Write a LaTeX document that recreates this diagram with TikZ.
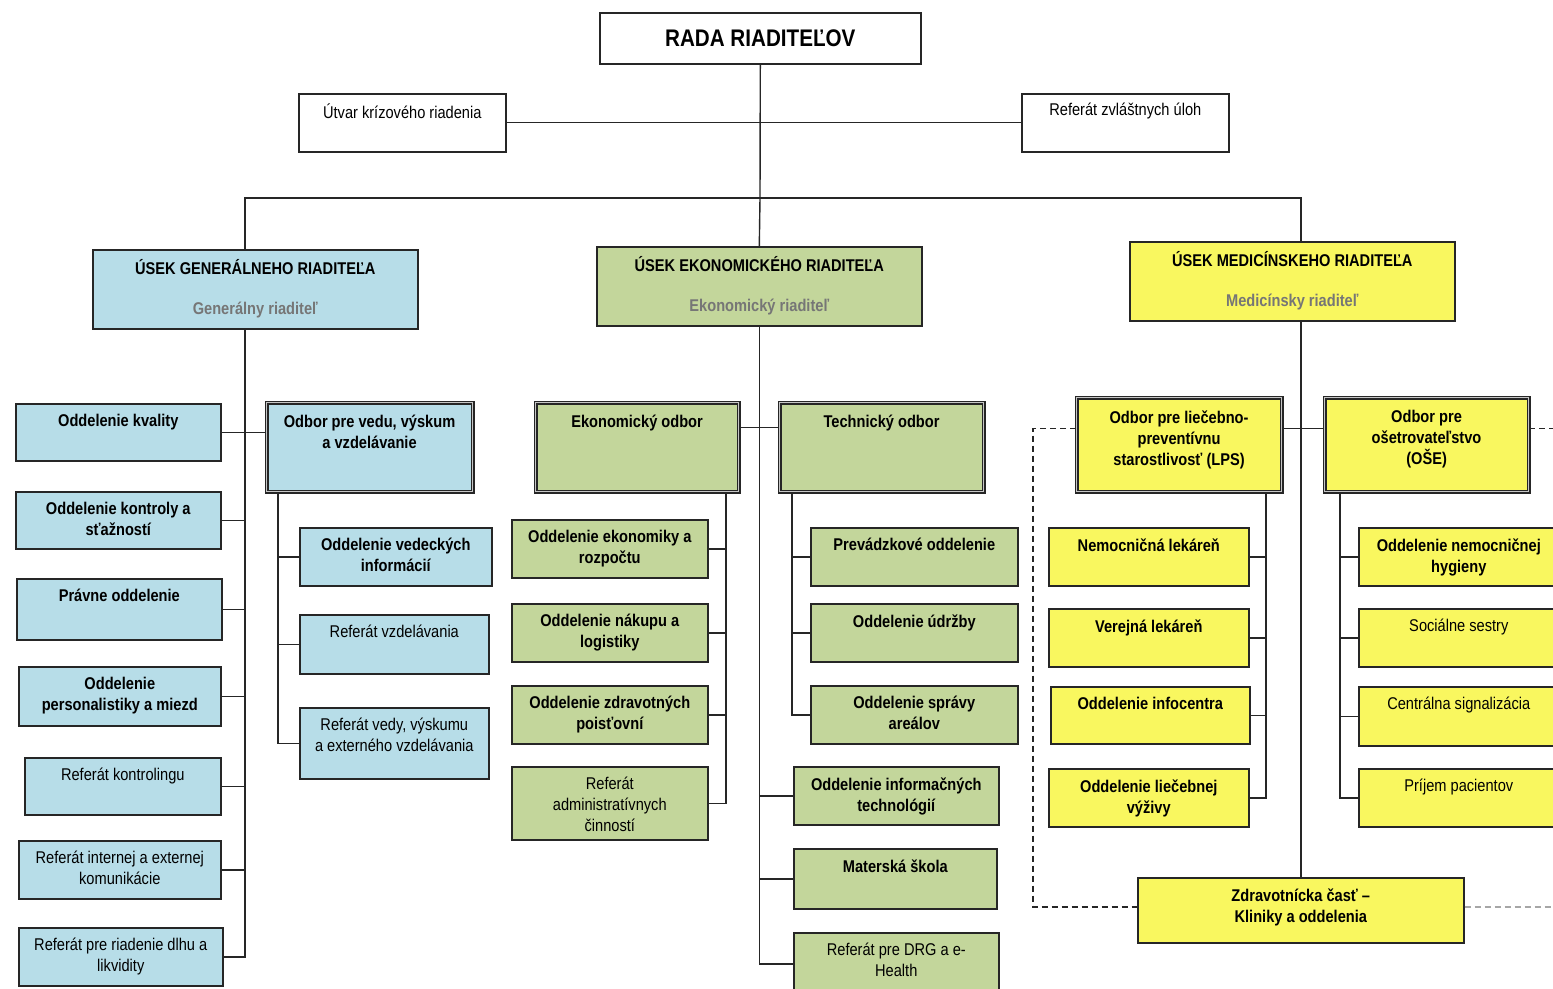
\documentclass[tikz,border=0pt]{standalone}
\usepackage{fontspec}
\setmainfont{Liberation Sans}[FakeStretch=0.86]
\usetikzlibrary{calc}
\definecolor{genblue}{HTML}{B7DDE8}
\definecolor{ekogreen}{HTML}{C3D69B}
\definecolor{medyellow}{HTML}{F9F75F}
\definecolor{subgray}{HTML}{767676}
\newcommand{\lab}{\fontsize{8.5}{10.5}\selectfont}
\tikzset{
    unit/.style={draw=black!85, line width=0.8pt, anchor=north west, inner sep=0pt},
    gen/.style={unit, fill=genblue},
    eko/.style={unit, fill=ekogreen},
    med/.style={unit, fill=medyellow},
    odbor/.style={double=gray!45, double distance=0.9pt, line width=0.55pt},
    labtext/.style={font=\lab, anchor=north, align=center, inner sep=0pt},
    conn/.style={draw=black!85, line width=0.7pt},
    dash line/.style={conn, dash pattern=on 3pt off 2pt}
}

\begin{document}
\begin{tikzpicture}[x=0.5pt,y=-0.5pt]
\useasboundingbox (0,0) rectangle (1553,989);
% top
\node[unit, fill=white, anchor=north west, minimum width=160.5pt, minimum height=25.5pt, font=\fontsize{12}{14}\selectfont\bfseries] (rada) at (599,12) {RADA RIADITEĽOV};
\foreach \n/\x/\t in {utvar/298/{Útvar krízového riadenia}, zvl/1021/{Referát zvláštnych úloh}}{
    \node[unit, fill=white, minimum width=103.5pt, minimum height=29pt] (\n) at (\x,93) {};
    \node[labtext] (\n-t) at ([yshift=-5pt]\n.north) {\t};
}
\coordinate (hub) at (760,198);

% usek boxes
\foreach \n/\s/\x/\y/\t/\u in {usekG/gen/92/249/{ÚSEK GENERÁLNEHO RIADITEĽA}/{Generálny riaditeľ},
    usekE/eko/596/246/{ÚSEK EKONOMICKÉHO RIADITEĽA}/{Ekonomický riaditeľ},
    usekM/med/1129/241/{ÚSEK MEDICÍNSKEHO RIADITEĽA}/{Medicínsky riaditeľ}}{
    \node[\s, minimum width=162.5pt, minimum height=39.5pt] (\n) at (\x,\y) {};
    \node[labtext, font=\lab\bfseries] (\n-t) at ([yshift=-5pt]\n.north) {\t};
    \node[labtext, font=\lab\bfseries, text=subgray] (\n-s) at ([yshift=-26.5pt]\n.north) {\u};
}

% odbory
\node[gen, odbor, minimum width=103pt, minimum height=44.5pt] (vedu) at (266,402) {};
\node[eko, odbor, minimum width=101.5pt, minimum height=44.5pt] (ekon) at (535,402) {};
\node[eko, odbor, minimum width=102pt, minimum height=44.5pt] (tech) at (779,402) {};
\node[med, odbor, minimum width=102.5pt, minimum height=47pt] (lps) at (1076,397) {};
\node[med, odbor, minimum width=102pt, minimum height=47pt] (ose) at (1324,397) {};
\foreach \n/\t in {vedu/{Odbor pre vedu, výskum\\a vzdelávanie}, ekon/{Ekonomický odbor}, tech/{Technický odbor},
    lps/{Odbor pre liečebno-\\preventívnu\\starostlivosť (LPS)}, ose/{Odbor pre\\ošetrovateľstvo\\(OŠE)}}{
    \node[labtext, font=\lab\bfseries] (\n-t) at ([yshift=-6.5pt]\n.north) {\t};
}

% units
\foreach \n/\s/\x/\y/\w/\h/\f/\t in {
    kval/gen/15/403/205/57/\bfseries/{Oddelenie kvality},
    kontr/gen/15/491/205/57/\bfseries/{Oddelenie kontroly a\\sťažností},
    prav/gen/16/578/205/61/\bfseries/{Právne oddelenie},
    pers/gen/18/666/202/59/\bfseries/{Oddelenie\\personalistiky a miezd},
    kontrol/gen/24/757/196/57/\mdseries/{Referát kontrolingu},
    komun/gen/18/840/202/58/\mdseries/{Referát internej a externej\\komunikácie},
    dlh/gen/18/927/204/58/\mdseries/{Referát pre riadenie dlhu a\\likvidity},
    vedinf/gen/299/527/192/58/\bfseries/{Oddelenie vedeckých\\informácií},
    vzdel/gen/299/614/189/59/\mdseries/{Referát vzdelávania},
    vedy/gen/299/707/189/71/\mdseries/{Referát vedy, výskumu\\a externého vzdelávania},
    rozp/eko/511/519/196/58/\bfseries/{Oddelenie ekonomiky a\\rozpočtu},
    nakup/eko/511/603/196/58/\bfseries/{Oddelenie nákupu a\\logistiky},
    poist/eko/511/685/196/58/\bfseries/{Oddelenie zdravotných\\poisťovní},
    admin/eko/511/766/196/73/\mdseries/{Referát\\administratívnych\\činností},
    prev/eko/810/527/207/58/\bfseries/{Prevádzkové oddelenie},
    udrz/eko/810/603/207/58/\bfseries/{Oddelenie údržby},
    areal/eko/810/685/207/58/\bfseries/{Oddelenie správy\\areálov},
    it/eko/793/766/205/58/\bfseries/{Oddelenie informačných\\technológií},
    ms/eko/793/848/203/60/\bfseries/{Materská škola},
    drg/eko/793/932/205/62/\mdseries/{Referát pre DRG a e-\\Health},
    nlek/med/1048/527/200/58/\bfseries/{Nemocničná lekáreň},
    vlek/med/1048/608/200/58/\bfseries/{Verejná lekáreň},
    info/med/1050/686/199/57/\bfseries/{Oddelenie infocentra},
    vyziv/med/1048/768/200/58/\bfseries/{Oddelenie liečebnej\\výživy},
    hyg/med/1358/527/200/58/\bfseries/{Oddelenie nemocničnej\\hygieny},
    soc/med/1358/608/200/58/\mdseries/{Sociálne sestry},
    sign/med/1358/686/200/59/\mdseries/{Centrálna signalizácia},
    prij/med/1358/768/200/58/\mdseries/{Príjem pacientov},
    zdrav/med/1137/877/326/65/\bfseries/{Zdravotnícka časť –\\Kliniky a oddelenia}}{
    \node[\s, minimum width=\w*0.5pt, minimum height=\h*0.5pt] (\n) at (\x,\y) {};
    \node[labtext, font=\lab\f] (\n-t) at ([yshift=-5.5pt]\n.north) {\t};
}

% connectors
\draw[conn] (rada.south) -- (hub) -- (usekE.north);
\draw[conn] (utvar.east) -- (zvl.west);
\draw[conn] ([xshift=-5.25pt]usekG.north) |- (hub) -| (zdrav.north |- usekM.north);

% general
\coordinate (gsp) at ([xshift=-5.25pt]usekG.south);
\foreach \n in {kval,kontr,prav,pers,kontrol,komun,dlh}
    \draw[conn] (gsp) |- (\n.east);
\draw[conn] (kval.east) -- (kval.east -| vedu.west);
\coordinate (vsp) at ([xshift=6pt]vedu.south west);
\foreach \n in {vedinf,vzdel,vedy}
    \draw[conn] (vsp) |- (\n.west);

% economic
\foreach \n in {it,ms,drg}
    \draw[conn] (usekE.south) |- (\n.west);
\draw[conn] ([yshift=9.75pt]ekon.east) -- ([yshift=9.75pt]tech.west);
\coordinate (esp) at ([xshift=-6.5pt]ekon.south east);
\foreach \n in {rozp,nakup,poist,admin}
    \draw[conn] (esp) |- (\n.east);
\coordinate (tsp) at ([xshift=6.5pt]tech.south west);
\foreach \n in {prev,udrz,areal}
    \draw[conn] (tsp) |- (\n.west);

% medical
\draw[conn] (zdrav.north |- usekM.south) -- (zdrav.north);
\draw[conn] ([yshift=8pt]lps.east) -- ([yshift=8pt]ose.west);
\coordinate (lsp) at ([xshift=-8pt]lps.south east);
\foreach \n in {nlek,vlek,info,vyziv}
    \draw[conn] (lsp) |- (\n.east);
\coordinate (osp) at ([xshift=8pt]ose.south west);
\foreach \n in {hyg,soc,sign,prij}
    \draw[conn] (osp) |- (\n.west);

% dashed
\coordinate (dashL) at (1033,907);
\coordinate (edgeR) at (1553,0);
\coordinate (oseR) at ([yshift=8pt]ose.east);
\draw[dash line] ([yshift=8pt]lps.west) -| (dashL) -- (dashL -| zdrav.west);
\draw[dash line, draw=gray!70] (dashL -| zdrav.east) -- (dashL -| edgeR);
\draw[dash line] (oseR) -- (oseR -| edgeR);
\end{tikzpicture}
\end{document}
